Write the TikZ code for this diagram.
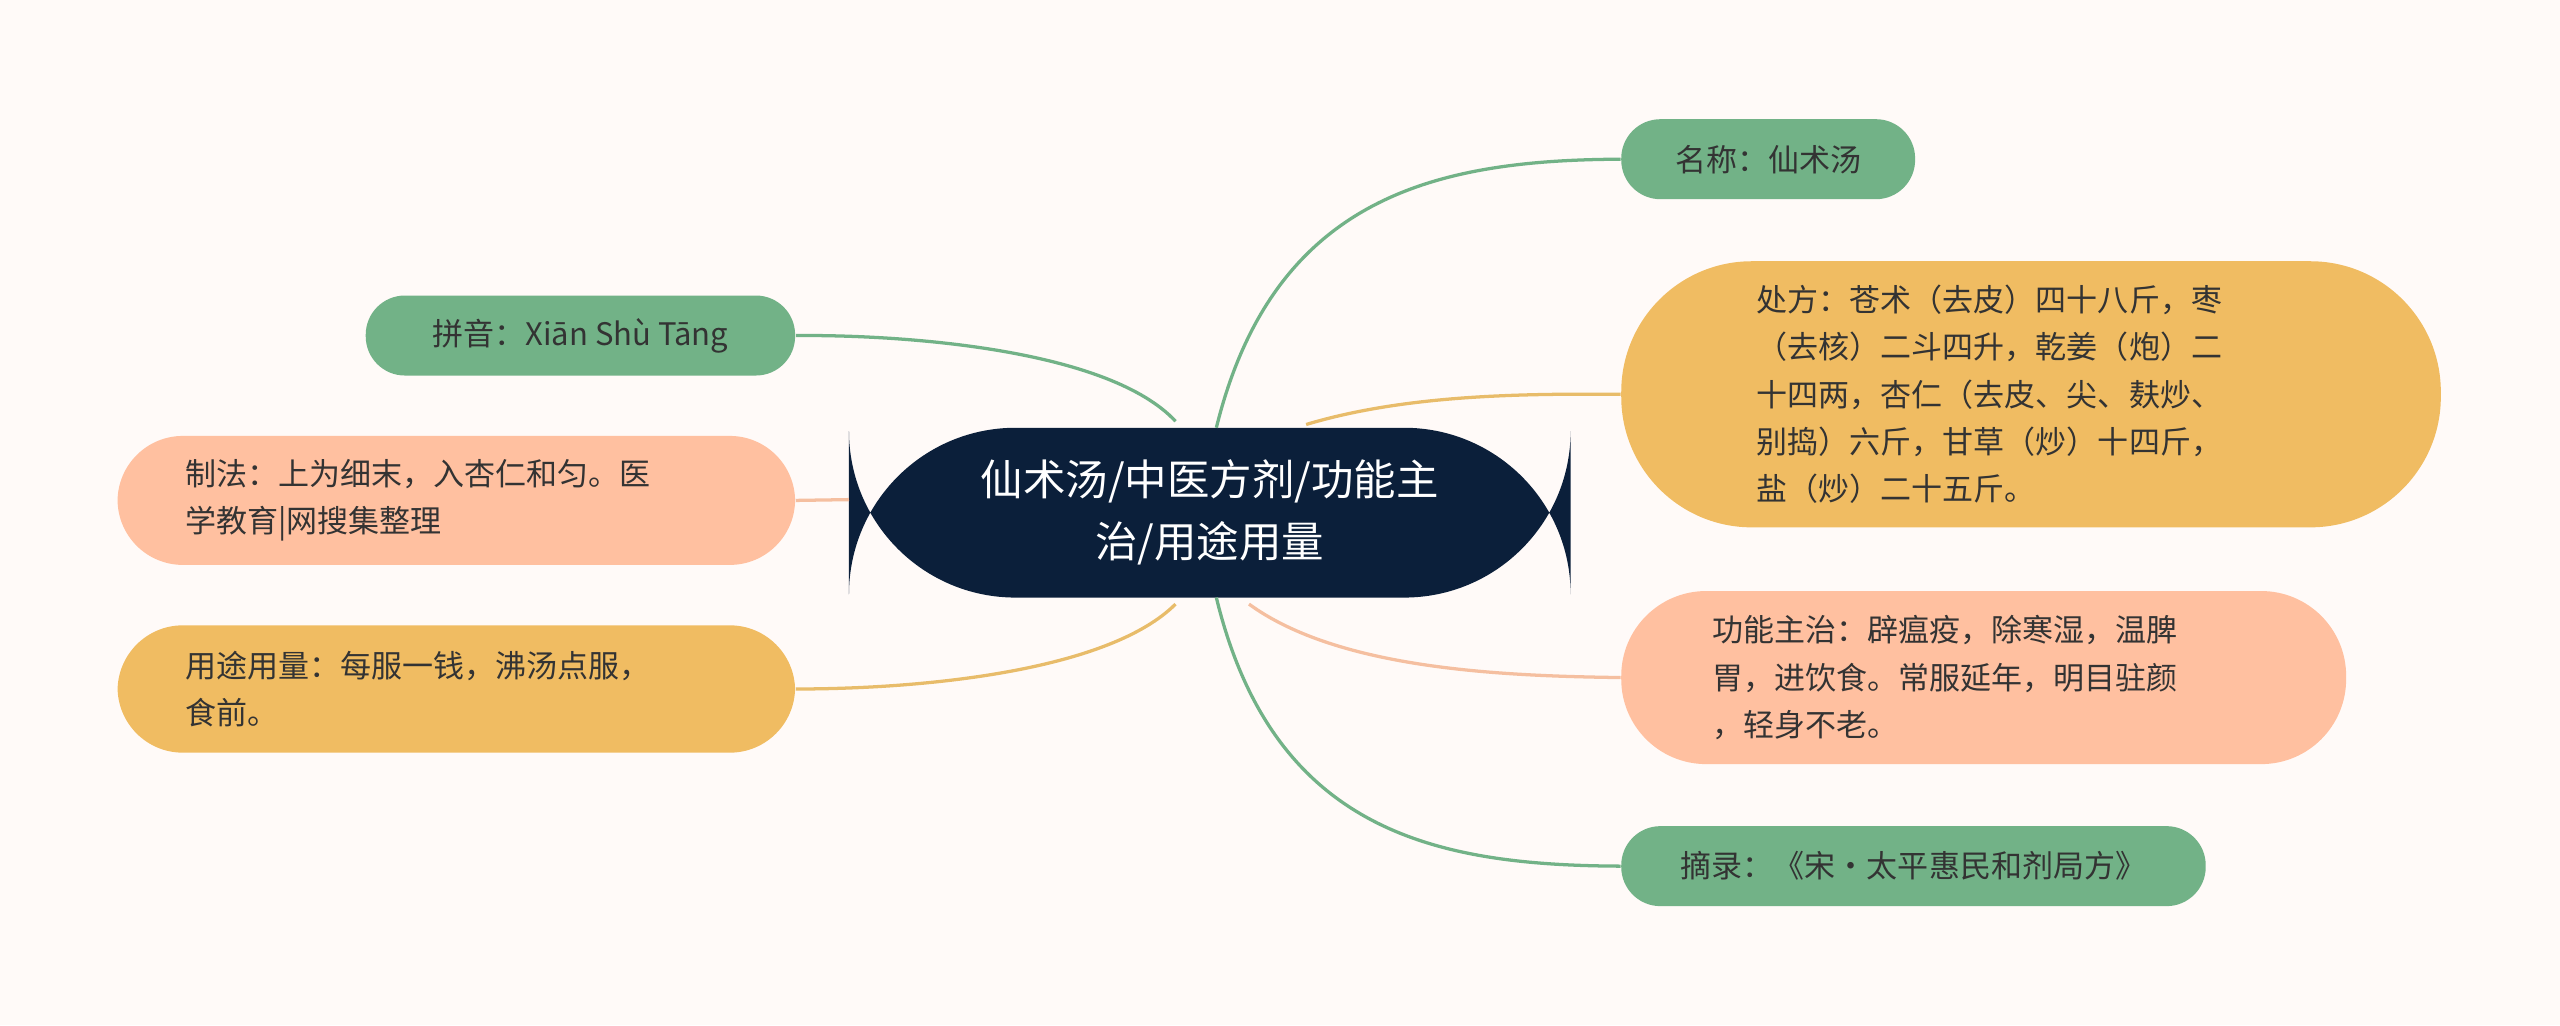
\documentclass[tikz,border=0pt]{standalone}
\usepackage{fontspec}
\setmainfont{Noto Sans CJK SC}
\begin{document}
\begin{tikzpicture}[x=0.5pt,y=-0.5pt,
  box/.style={rounded corners=#1, inner sep=0pt, font=\fontsize{9.5}{14.5}\selectfont, text=black!80},
  gr/.style={fill=green!35!teal!50!white, fill=gnode},
  ln/.style={line width=1pt}]
\definecolor{bg}{HTML}{FFFAF8}
\definecolor{gnode}{HTML}{72B287}
\definecolor{onode}{HTML}{F0BC62}
\definecolor{snode}{HTML}{FFC0A0}
\definecolor{navy}{HTML}{0B1F3A}
\definecolor{gline}{HTML}{72B287}
\definecolor{oline}{HTML}{E8BC6A}
\definecolor{sline}{HTML}{F5BFA0}
\fill[bg] (0,0) rectangle (1568,628);
\useasboundingbox (0,0) rectangle (1568,628);
% connectors first
\coordinate (c1) at (745,262);
\coordinate (c2) at (800,260);
\coordinate (c3) at (765,370);
\coordinate (c4) at (745,366);
\coordinate (c5) at (720,258);
\coordinate (c6) at (520,306);
\coordinate (c7) at (720,370);
\node[box=51pt, fill=navy, minimum width=221pt, minimum height=52pt, text width=200pt, align=center, text=white, font=\fontsize{13}{19}\selectfont] (ctr) at (741,314) {仙术汤/中医方剂/功能主\\治/用途用量};
\node[box=12pt, fill=gnode, minimum width=90pt, minimum height=24.5pt, align=center] (n1) at (1083,97.5) {名称：仙术汤};
\node[box=40pt, fill=onode, minimum width=251pt, minimum height=81.5pt, text width=168pt, align=left] (n2) at (1244,241.5) {处方：苍术（去皮）四十八斤，枣\\（去核）二斗四升，乾姜（炮）二\\十四两，杏仁（去皮、尖、麸炒、\\别捣）六斤，甘草（炒）十四斤，\\盐（炒）二十五斤。};
\node[box=26pt, fill=snode, minimum width=222pt, minimum height=53pt, text width=166pt, align=left] (n3) at (1215,415) {功能主治：辟瘟疫，除寒湿，温脾\\胃，进饮食。常服延年，明目驻颜\\，轻身不老。};
\node[box=12pt, fill=gnode, minimum width=179pt, minimum height=24.5pt, align=center] (n4) at (1172,530.5) {摘录：《宋·太平惠民和剂局方》};
\node[box=12pt, fill=gnode, minimum width=131.5pt, minimum height=24.5pt, align=center] (n5) at (355.5,205.5) {拼音：Xiān Shù Tāng};
\node[box=20pt, fill=snode, minimum width=207.5pt, minimum height=39.5pt, text width=166pt, align=left] (n6) at (279.5,306.5) {制法：上为细末，入杏仁和匀。医\\学教育|网搜集整理};
\node[box=20pt, fill=onode, minimum width=207.5pt, minimum height=39pt, text width=166pt, align=left] (n7) at (279.5,422) {用途用量：每服一钱，沸汤点服，\\食前。};
\begin{scope}[on background layer/.try]
\end{scope}
\draw[ln, gline] (c1) .. controls (780,120) and (880,98) .. (n1.west);
\draw[ln, oline] (c2) .. controls (860,242) and (930,241) .. (n2.west);
\draw[ln, sline] (c3) .. controls (820,410) and (920,414) .. (n3.west);
\draw[ln, gline] (c4) .. controls (780,510) and (880,530) .. (n4.west);
\draw[ln, gline] (c5) .. controls (680,215) and (560,205) .. (n5.east);
\draw[ln, sline] (c6) -- (n6.east);
\draw[ln, oline] (c7) .. controls (680,410) and (570,422) .. (n7.east);
\end{tikzpicture}
\end{document}
